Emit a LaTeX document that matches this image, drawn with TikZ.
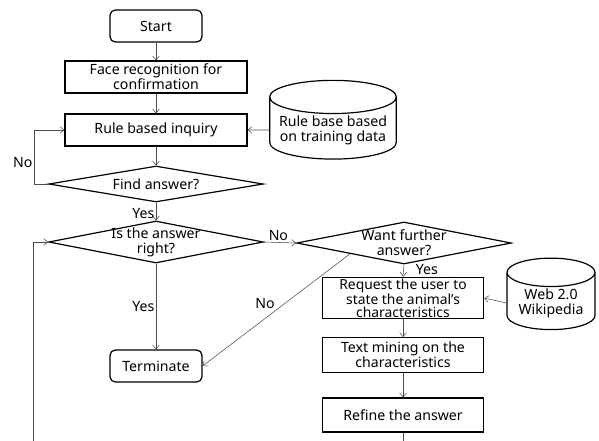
\documentclass[tikz,border=0pt]{standalone}
\usepackage{fontspec}
\setmainfont{Noto Sans}
\usetikzlibrary{arrows.meta, shapes.geometric, positioning}

\begin{document}
\begin{tikzpicture}[
    x=0.75pt, y=-0.75pt,
    font=\fontsize{10.6}{11.2}\selectfont,
    >={Straight Barb[length=3pt, width=5pt]},
    box/.style={
        rectangle, draw, line width=0.9pt, minimum width=136.5pt,
        minimum height=24pt, align=center, inner sep=1pt
    },
    term/.style={box, rounded corners=4pt, minimum width=69pt},
    diam/.style={
        diamond, draw, line width=0.9pt, inner sep=0pt,
        minimum width=161pt, minimum height=31.5pt
    },
    dtext/.style={align=center, inner sep=0pt},
    store/.style={
        cylinder, shape border rotate=90, draw, line width=0.9pt,
        aspect=0.3, align=center, inner sep=1pt
    },
    arr/.style={->, line width=0.4pt, draw=black!70},
    elabel/.style={inner sep=1pt},
]
\useasboundingbox (0,0) rectangle (599,440);
\clip (0,0) rectangle (599,440);

% --- Main column ----------------------------------------------------
\node[term] (start)     at (156, 26) {Start};
\node[box]  (face)      at (156, 77) {Face recognition for\\confirmation};
\node[box]  (inquiry)   at (156,130) {Rule based inquiry};
\node[diam, minimum height=27pt,
      label={[dtext]center:Find answer?}] (find) at (156,184) {};
\node[diam, label={[dtext]center:{Is the answer\\right?}}]
            (right)     at (156,242) {};
\node[term] (terminate) at (156,366) {Terminate};

% --- Stores ---------------------------------------------------------
\node[store, minimum width=95pt, minimum height=45pt]
            (rulebase)  at (333,130) {Rule base based\\on training data};
\node[store, aspect=0.42, minimum width=66pt, minimum height=50pt]
            (web)       at (551,303) {Web 2.0\\Wikipedia};

% --- Right column ---------------------------------------------------
\node[diam, label={[dtext]center:{Want further\\answer?}}]
            (further)   at (404,243) {};
\node[box, minimum width=121pt, minimum height=30pt,
      font=\fontsize{10.4}{9.9}\selectfont]
            (request)   at (403,298) {Request the user to\\state the animal's\\characteristics};
\node[box, minimum width=121pt, minimum height=26pt]
            (mining)    at (403,355) {Text mining on the\\characteristics};
\node[box, minimum width=121pt, minimum height=25.5pt]
            (refine)    at (403,415) {Refine the answer};

\coordinate (loopbot) at (33,470);

% --- Arrows ---------------------------------------------------------
\draw[arr] (start)    -- (face);
\draw[arr] (face)     -- (inquiry);
\draw[arr] (rulebase) -- (inquiry);
\draw[arr] (inquiry)  -- (find);
\draw[arr] (find.west) -- ++(-14,0)
    |- node[elabel, pos=0.2, left]{No} (inquiry.west);
\draw[arr] (find.south) -- node[elabel, pos=0.6, left]{Yes} (right.north);
\draw[arr] (right.east) -- node[elabel, above, pos=0.45]{No} (further.west);
\draw[arr] (right.south) -- node[elabel, left]{Yes} (terminate.north);
\draw[arr] (further.south west) -- node[elabel, above left, pos=0.5]{No} (terminate.east);
\draw[arr] (further.south) -- node[elabel, right, xshift=8pt, pos=0.4]{Yes} (request.north);
\draw[arr] (web.west)  -- (request.east);
\draw[arr] (request)  -- (mining);
\draw[arr] (mining)   -- (refine);

% loop back from the bottom
\draw[arr] (refine.south) -- (refine.south |- loopbot) -- (loopbot)
    |- (right.west);

\end{tikzpicture}
\end{document}
